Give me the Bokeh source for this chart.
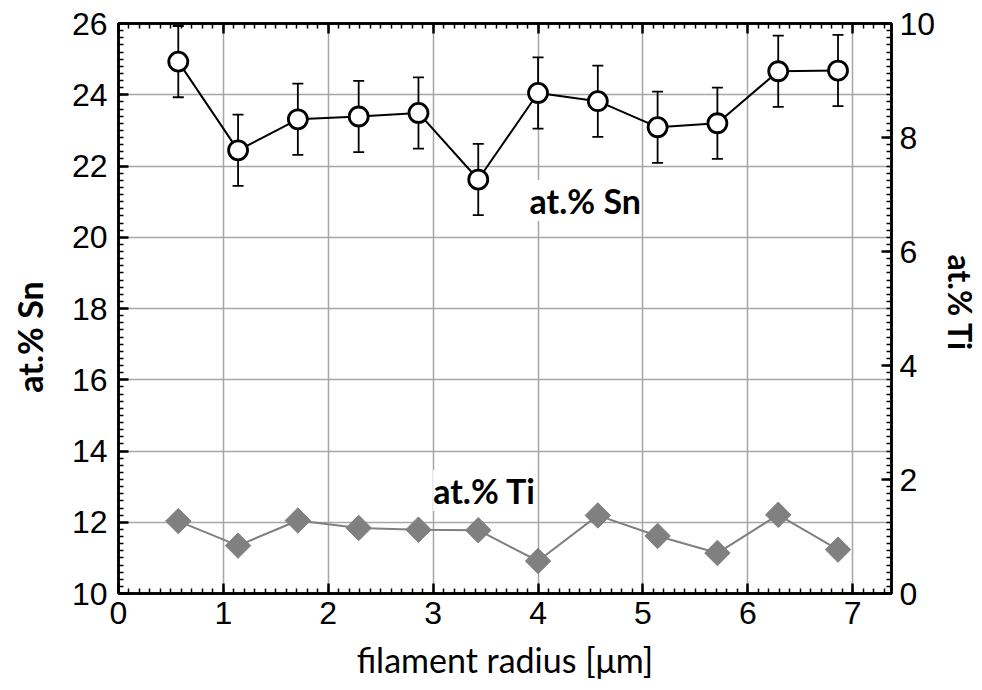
import numpy as np
from bokeh.plotting import figure
from bokeh.layouts import row
from bokeh.models import (ColumnDataSource, Range1d, LinearAxis, SingleIntervalTicker,
                          Whisker, Label, TeeHead, CustomJSTickFormatter)
from bokeh.embed import file_html
from bokeh.resources import INLINE

# data
radius = [0.57, 1.14, 1.71, 2.29, 2.86, 3.43, 4.00, 4.57, 5.14, 5.71, 6.29, 6.86]
sn = [24.93, 22.44, 23.31, 23.39, 23.49, 21.62, 24.05, 23.82, 23.09, 23.20, 24.66, 24.68]
sn_err = [1.0] * 12
ti = [1.27, 0.84, 1.28, 1.15, 1.12, 1.11, 0.57, 1.37, 1.01, 0.71, 1.38, 0.77]

x_title = "filament radius [\u03bcm]"
sn_title = "at.% Sn"
ti_title = "at.% Ti"

H = 690
LW, RW = 60, 44          # side strips holding the y-axis titles
MW = 982 - LW - RW       # main figure width

tick_font = "Liberation Sans"
title_font = "Lato"
title_size = "34px"

p = figure(width=MW, height=H, output_backend="svg", toolbar_location=None,
           x_range=Range1d(0, 7.37), y_range=Range1d(10, 26),
           min_border_left=118 - LW, min_border_right=MW - (894 - LW),
           min_border_top=23, min_border_bottom=97)
p.extra_y_ranges = {"ti": Range1d(0, 10)}
p.outline_line_color = "black"
p.outline_line_width = 2.5
p.background_fill_color = "white"
p.border_fill_color = "white"

def style_axis(ax):
    ax.axis_line_width = 2.5
    ax.axis_line_color = "black"
    ax.major_tick_in = 10
    ax.major_tick_out = 0
    ax.minor_tick_in = 5
    ax.minor_tick_out = 0
    ax.major_tick_line_width = 2.5
    ax.minor_tick_line_width = 1.5
    ax.major_tick_line_color = "black"
    ax.minor_tick_line_color = "black"
    ax.major_label_text_font = tick_font
    ax.major_label_text_font_size = "32px"
    ax.major_label_text_color = "black"

p.xaxis.ticker = SingleIntervalTicker(interval=1, num_minor_ticks=10)
p.yaxis.ticker = SingleIntervalTicker(interval=2, num_minor_ticks=10)
style_axis(p.xaxis[0])
style_axis(p.yaxis[0])
p.xaxis.major_label_standoff = 8
p.yaxis.major_label_standoff = 11
p.xaxis.axis_label = x_title
p.xaxis.axis_label_text_font = title_font
p.xaxis.axis_label_text_font_style = "normal"
p.xaxis.axis_label_text_font_size = title_size
p.xaxis.axis_label_text_color = "black"
p.xaxis.axis_label_standoff = 12

top = LinearAxis(ticker=SingleIntervalTicker(interval=1, num_minor_ticks=10),
                 formatter=CustomJSTickFormatter(code="return ''"))
style_axis(top)
top.major_label_standoff = 0
p.add_layout(top, "above")

right = LinearAxis(y_range_name="ti", ticker=SingleIntervalTicker(interval=2, num_minor_ticks=16))
style_axis(right)
right.major_label_standoff = 8
p.add_layout(right, "right")

p.xgrid.ticker = SingleIntervalTicker(interval=1)
p.ygrid.ticker = SingleIntervalTicker(interval=2)
p.grid.grid_line_color = "#a6a6a6"
p.grid.grid_line_width = 1.5

src = ColumnDataSource(dict(x=radius, sn=sn, lo=[a - e for a, e in zip(sn, sn_err)],
                            hi=[a + e for a, e in zip(sn, sn_err)], ti=ti))

# Ti series
p.line("x", "ti", source=src, y_range_name="ti", line_color="#808080", line_width=2)
p.scatter("x", "ti", source=src, y_range_name="ti", marker="square", angle=np.pi / 4,
          size=18, fill_color="#808080", line_color="#808080")

# Sn series
w = Whisker(base="x", lower="lo", upper="hi", source=src, line_color="black", line_width=1.8,
            upper_head=TeeHead(size=11, line_color="black", line_width=1.8),
            lower_head=TeeHead(size=11, line_color="black", line_width=1.8))
p.add_layout(w)
p.line("x", "sn", source=src, line_color="black", line_width=2)
p.scatter("x", "sn", source=src, marker="circle", size=19, fill_color="white",
          line_color="black", line_width=2.8)

def lab(x, y, text, angle=0.0, bg=True, size=title_size):
    return Label(x=x, y=y, text=text, angle=angle, text_font=title_font, text_font_style="bold",
                 text_font_size=size, text_align="center", text_baseline="middle",
                 background_fill_color="white" if bg else None, text_color="black")

p.add_layout(lab(4.45, 21.03, sn_title))
p.add_layout(lab(3.49, 12.89, ti_title))

# side strips (their frames align with the main frame vertically); titles rotated
def strip(width, yr):
    s = figure(width=width, height=H, output_backend="svg", toolbar_location=None,
               x_range=Range1d(0, width), y_range=yr,
               x_axis_type=None, y_axis_type=None, min_border=0)
    s.outline_line_color = None
    s.background_fill_color = "white"
    s.border_fill_color = "white"
    s.grid.visible = False
    return s

left_strip = strip(LW, Range1d(10, 26))
left_strip.add_layout(lab(29, 17.2, sn_title, angle=np.pi / 2, bg=False))
right_strip = strip(RW, Range1d(0, 10))
right_strip.add_layout(lab(RW / 2, 5.1, ti_title, angle=-np.pi / 2, bg=False, size="32px"))

layout = row(left_strip, p, right_strip, spacing=0)
open("out.html", "w").write(file_html(layout, INLINE))
